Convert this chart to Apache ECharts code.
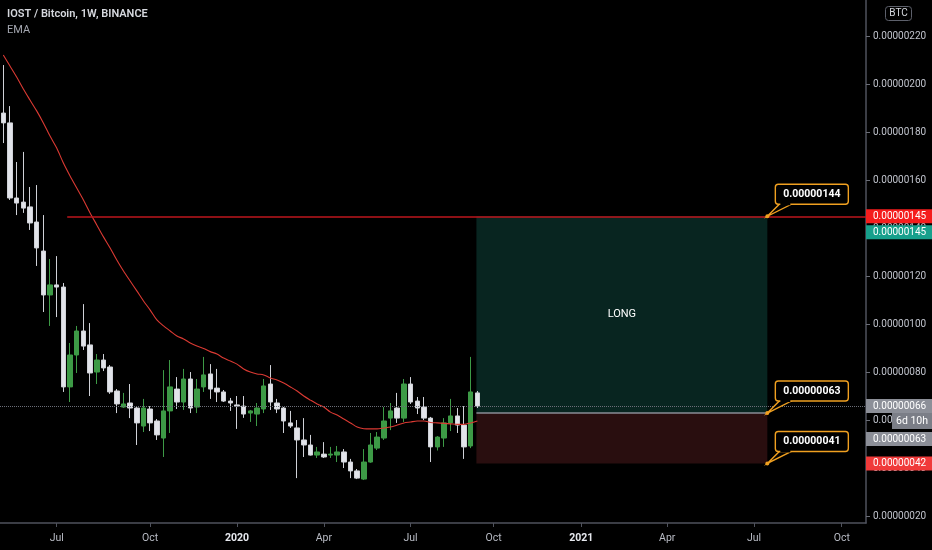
<!DOCTYPE html>
<html>
<head>
<meta charset="utf-8">
<script src="https://cdn.jsdelivr.net/npm/echarts@6/dist/echarts.min.js"></script>
<style>
html,body{margin:0;padding:0;background:#000;}
#chart{width:932px;height:550px;}
</style>
</head>
<body>
<div id="chart"></div>
<script>
// prices are in satoshi (1e-8 BTC), one weekly bar per date
var weeks = ['2019-05-06','2019-05-13','2019-05-20','2019-05-27','2019-06-03','2019-06-10','2019-06-17','2019-06-24',
	'2019-07-01','2019-07-08','2019-07-15','2019-07-22','2019-07-29','2019-08-05','2019-08-12','2019-08-19','2019-08-26',
	'2019-09-02','2019-09-09','2019-09-16','2019-09-23','2019-09-30','2019-10-07','2019-10-14','2019-10-21','2019-10-28',
	'2019-11-04','2019-11-11','2019-11-18','2019-11-25','2019-12-02','2019-12-09','2019-12-16','2019-12-23','2019-12-30',
	'2020-01-06','2020-01-13','2020-01-20','2020-01-27','2020-02-03','2020-02-10','2020-02-17','2020-02-24',
	'2020-03-02','2020-03-09','2020-03-16','2020-03-23','2020-03-30','2020-04-06','2020-04-13','2020-04-20','2020-04-27',
	'2020-05-04','2020-05-11','2020-05-18','2020-05-25','2020-06-01','2020-06-08','2020-06-15','2020-06-22','2020-06-29',
	'2020-07-06','2020-07-13','2020-07-20','2020-07-27','2020-08-03','2020-08-10','2020-08-17','2020-08-24','2020-08-31',
	'2020-09-07','2020-09-14'];
var opens = [188.0,183.9,152.6,150.9,148.9,142.6,130.5,112.2,116.4,115.5,
	73.9,87.2,97.2,91.4,80.1,85.1,82.2,72.2,65.5,67.2,
	65.1,57.6,64.7,59.7,52.6,63.9,73.0,67.6,77.2,65.5,
	73.9,79.3,73.4,71.8,68.0,66.4,65.9,63.0,62.6,64.7,
	75.1,67.2,65.1,58.9,56.8,51.8,49.7,45.5,45.9,45.5,
	45.5,46.8,42.6,38.9,35.5,42.6,48.4,52.6,60.9,65.1,
	60.9,75.1,68.0,65.5,60.9,48.9,52.6,58.9,61.8,58.0,
	49.3,71.4];
var closes = [183.9,152.6,150.5,148.4,142.2,131.8,112.2,116.4,115.5,73.9,
	87.2,97.2,90.9,79.7,85.1,81.8,71.8,66.8,66.8,65.1,
	58.9,65.1,58.9,53.9,63.9,73.9,67.6,77.2,65.1,73.0,
	78.9,73.0,71.8,68.0,67.2,65.9,62.6,63.9,65.1,74.3,
	67.6,64.7,59.7,57.6,51.8,49.7,45.5,46.8,44.7,45.9,
	46.8,42.6,38.9,35.9,42.6,49.7,53.0,59.7,63.9,60.9,
	75.1,67.6,65.1,60.9,48.9,53.0,58.9,61.8,58.0,48.9,
	71.8,65.9];
var lows = [175.5,151.8,145.5,146.4,139.3,124.3,105.1,99.3,103.0,71.8,
	67.6,79.7,89.3,70.1,75.1,80.5,71.0,63.0,65.1,60.9,
	49.7,55.1,55.5,51.8,44.7,54.7,64.7,64.3,63.0,63.0,
	71.8,68.9,67.6,67.6,63.9,56.4,61.0,59.3,57.6,63.0,
	64.3,63.0,54.7,56.8,35.9,44.7,45.3,44.3,44.3,44.3,
	42.6,40.1,35.9,35.5,35.1,42.3,47.6,51.8,55.9,58.9,
	59.3,66.8,62.6,60.1,42.6,47.4,48.9,55.5,54.7,43.9,
	48.4,65.1];
var highs = [208.0,190.9,167.6,171.8,157.2,158.0,145.5,127.2,128.4,117.2,
	92.2,99.3,108.4,100.5,87.6,87.6,83.0,73.0,71.4,75.1,
	65.9,68.9,65.9,60.5,80.9,85.1,78.0,81.4,80.1,77.2,
	86.4,83.4,81.4,72.6,69.3,70.1,70.1,64.3,67.2,77.2,
	83.0,68.9,65.5,63.9,60.1,60.9,53.9,48.9,50.9,48.9,
	49.3,48.0,43.9,39.7,48.0,54.7,55.1,65.5,67.2,71.4,
	77.2,78.0,69.7,69.7,61.4,53.4,60.9,68.9,65.1,65.9,
	86.4,72.2];
var emaVals = [212.2,207.6,203.0,198.0,193.4,188.9,183.9,178.4,173.4,167.2,
	161.8,156.8,151.8,146.4,141.4,136.4,131.8,126.8,122.2,118.0,
	113.9,109.7,105.9,101.8,99.3,97.2,95.1,93.9,92.2,90.9,
	89.9,88.6,87.6,85.9,84.7,83.4,81.4,80.1,79.3,78.9,
	77.6,76.8,75.5,73.9,72.2,70.1,68.4,66.8,65.5,63.4,
	62.2,60.5,58.9,57.2,56.5,56.4,56.4,56.8,57.2,58.0,
	58.9,59.3,59.7,59.7,59.1,58.9,58.7,58.5,58.3,58.3,
	58.9,59.7];

var tickDates = ['2019-07-01','2019-10-07','2020-01-06','2020-04-06','2020-07-06','2020-10-01','2021-01-01','2021-04-01','2021-07-01','2021-10-01'];
var tickTexts = ['Jul','Oct','2020','Apr','Jul','Oct','2021','Apr','Jul','Oct'];
var priceTicks = [20,40,60,80,100,120,140,160,180,200,220];

// drawings
var rayStart = '2019-07-12', rayPrice = 145;
var posStart = '2020-09-13', posEnd = '2021-07-15';
var targetPrice = 145, entryPrice = 63, stopPrice = 42;
var calloutTexts = ['0.00000144','0.00000063','0.00000041'];
var lastPrice = closes[closes.length - 1];

function ts(s){
	var p = s.split('-');
	return Date.UTC(+p[0], p[1] - 1, +p[2]);
}
function fmt(v){ return (v / 1e8).toFixed(8); }

var DAY = 86400000;
var xMin = ts(weeks[0]) - 3.46 * DAY;
var xMax = xMin + 907.9 * DAY;
var tickTs = tickDates.map(ts);

var candleData = weeks.map(function(w, i){ return [ts(w), opens[i], closes[i], lows[i], highs[i]]; });
var emaData = weeks.map(function(w, i){ return [ts(w), emaVals[i]]; });

var FONT = 'Roboto';
var chart = echarts.init(document.getElementById('chart'));
var option = {
	backgroundColor: '#000000',
	animation: false,
	grid: { left: 0, right: 66, top: 0, bottom: 27, containLabel: false, outerBoundsMode: 'none' },
	xAxis: {
		type: 'value', min: xMin, max: xMax, scale: true,
		axisLine: { show: true, lineStyle: { color: '#4f525c', width: 1.5 } },
		axisTick: { show: true, customValues: tickTs, length: 4, lineStyle: { color: '#4f525c' } },
		axisLabel: {
			customValues: tickTs, color: '#b8bbc4', fontFamily: FONT, fontSize: 10.5, margin: 10,
			formatter: function(v){
				var k = tickTs.indexOf(v);
				var t = k < 0 ? '' : tickTexts[k];
				return /^\d{4}$/.test(t) ? '{y|' + t + '}' : t;
			},
			rich: { y: { color: '#e6e8ee', fontWeight: 'bold', fontFamily: FONT, fontSize: 10.5 } }
		},
		splitLine: { show: false }
	},
	yAxis: {
		type: 'value', position: 'right', min: 17.2, max: 235.1,
		axisLine: { show: true, lineStyle: { color: '#4f525c', width: 1.5 } },
		axisTick: { show: true, customValues: priceTicks, length: 4, lineStyle: { color: '#6b6e78' } },
		axisLabel: { customValues: priceTicks, color: '#c0c3cc', fontFamily: FONT, fontSize: 10, margin: 7, formatter: fmt },
		splitLine: { show: false }
	},
	series: [
		{
			type: 'candlestick',
			data: candleData,
			encode: { x: 0, y: [1, 2, 3, 4] },
			barWidth: 5,
			itemStyle: { color: '#3d9a46', color0: '#e2e4ea', borderColor: '#3d9a46', borderColor0: '#cfd1d7', borderWidth: 1 },
			markArea: {
				silent: true,
				data: [
					[{ coord: [ts(posStart), targetPrice], itemStyle: { color: '#082520' },
						label: { show: true, position: 'inside', formatter: 'LONG', color: '#ffffff', fontFamily: FONT, fontSize: 11 } },
					 { coord: [ts(posEnd), entryPrice] }],
					[{ coord: [ts(posStart), entryPrice], itemStyle: { color: '#290e0f' }, label: { show: false } },
					 { coord: [ts(posEnd), stopPrice] }]
				]
			},
			markLine: {
				silent: true, symbol: ['none', 'none'], label: { show: false },
				data: [
					[{ coord: [xMin, lastPrice], lineStyle: { color: '#6b6e78', type: 'dotted', width: 1 } }, { coord: [xMax, lastPrice] }],
					[{ coord: [ts(rayStart), rayPrice], lineStyle: { color: '#bd161c', type: 'solid', width: 1.6 } }, { coord: [xMax, rayPrice] }],
					[{ coord: [ts(posStart), entryPrice], lineStyle: { color: '#8a8d96', type: 'solid', width: 1.5 } }, { coord: [ts(posEnd), entryPrice] }]
				]
			}
		},
		{
			type: 'line',
			data: emaData,
			showSymbol: false,
			smooth: 0.3,
			lineStyle: { color: '#db3a33', width: 1.1 },
			z: 3
		}
	]
};
chart.setOption(option);

// overlay: title, axis price tags, callouts
function py(v){ return chart.convertToPixel({ yAxisIndex: 0 }, v); }
function px(t){ return chart.convertToPixel({ xAxisIndex: 0 }, t); }

var g = [];
g.push({ type: 'text', left: 7, top: 9, z: 100, style: { text: 'IOST / Bitcoin, 1W, BINANCE', fill: '#d6d8de', font: '600 11px ' + FONT } });
g.push({ type: 'text', left: 7, top: 25, z: 100, style: { text: 'EMA', fill: '#a3a6af', font: '11px ' + FONT } });
g.push({ type: 'rect', z: 100, shape: { x: 885.5, y: 6.5, width: 26, height: 14, r: 3 }, style: { fill: '#000', stroke: '#5d606b', lineWidth: 1 } });
g.push({ type: 'text', z: 101, x: 898.5, y: 13.5, style: { text: 'BTC', fill: '#d6d8de', font: '10px ' + FONT, align: 'center', verticalAlign: 'middle' } });

var axisX = 866;
var tags = [
	{ v: rayPrice, bg: '#f51d1d', dy: 0 },
	{ v: targetPrice, bg: '#17a08c', dy: 16 },
	{ v: lastPrice, bg: '#8c8f98', dy: 0 },
	{ v: entryPrice, bg: '#8c8f98', dy: 26 },
	{ v: stopPrice, bg: '#f03a3a', dy: 0 }
];
tags.forEach(function(tg){
	var y = py(tg.v) + tg.dy;
	g.push({ type: 'rect', z: 110, shape: { x: axisX, y: y - 7, width: 66, height: 14 }, style: { fill: tg.bg } });
	g.push({ type: 'text', z: 111, x: 873, y: y, style: { text: fmt(tg.v), fill: '#ffffff', font: '10px ' + FONT, verticalAlign: 'middle' } });
});
// bar countdown
var cy = py(lastPrice) + 15;
g.push({ type: 'rect', z: 112, shape: { x: 892, y: cy - 8, width: 40, height: 16 }, style: { fill: '#7b7e87' } });
g.push({ type: 'text', z: 113, x: 912, y: cy, style: { text: '6d 10h', fill: '#ffffff', font: '10.5px ' + FONT, align: 'center', verticalAlign: 'middle' } });

// callouts at the right edge of the position tool
var ex = px(ts(posEnd));
[targetPrice, entryPrice, stopPrice].forEach(function(v, i){
	var dyp = py(v);
	var bx = ex + 8, by = dyp - 32;
	g.push({ type: 'polygon', z: 120, shape: { points: [[ex, dyp], [bx + 4, by + 20], [bx + 16, by + 20]] }, style: { fill: '#000', stroke: '#f0a020', lineWidth: 1.4 } });
	g.push({ type: 'rect', z: 121, shape: { x: bx, y: by, width: 73, height: 20, r: 3 }, style: { fill: '#000', stroke: '#f0a020', lineWidth: 1.4 } });
	g.push({ type: 'rect', z: 122, shape: { x: bx + 5, y: by + 18, width: 10, height: 3 }, style: { fill: '#000' } });
	g.push({ type: 'circle', z: 123, shape: { cx: ex, cy: dyp, r: 2 }, style: { fill: '#f0a020' } });
	g.push({ type: 'text', z: 124, x: bx + 36.5, y: by + 10, style: { text: calloutTexts[i], fill: '#ffffff', font: 'bold 10.5px ' + FONT, align: 'center', verticalAlign: 'middle' } });
});

chart.setOption({ graphic: { elements: g } });
</script>
</body>
</html>
